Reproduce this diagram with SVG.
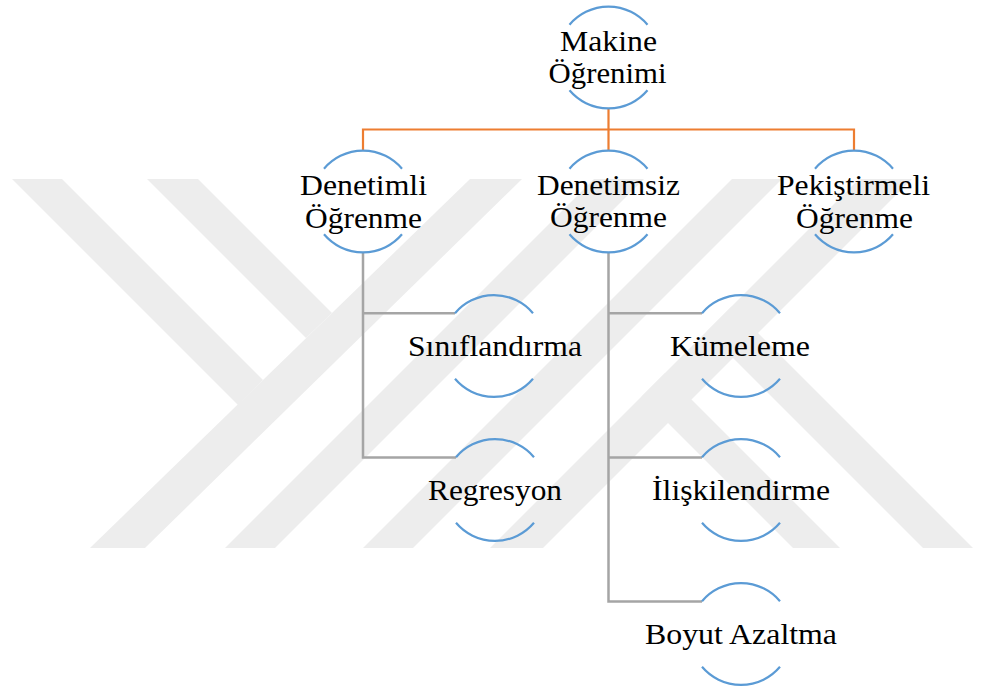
<svg xmlns="http://www.w3.org/2000/svg" width="981" height="691" viewBox="0 0 981 691">
<style>
.wm{fill:#EDEDED;stroke:none}
.arc{fill:none;stroke:#5B9BD5;stroke-width:2.2}
.t{font-family:'Liberation Serif','Times New Roman',Tinos,'DejaVu Serif',serif;font-size:29px;fill:#000;text-anchor:middle}
.or{fill:none;stroke:#ED7D31;stroke-width:2.2}
.gr{fill:none;stroke:#A5A5A5;stroke-width:2.5}
</style>
<rect width="981" height="691" fill="#fff"/>
<g id="watermark">
<polygon class="wm" points="12,179 62,179 263,380 238,405"/>
<polygon class="wm" points="147,179 198,179 332,313 306,338"/>
<polygon class="wm" points="90,548 145,548 522,179 470,179"/>
<polygon class="wm" points="225,548 275,548 644,179 594,179"/>
<polygon class="wm" points="363,548 413,548 782,179 732,179"/>
<polygon class="wm" points="490,548 543,548 912,179 859,179"/>
<polygon class="wm" points="641.5,396.5 665,373 840,548 793,548"/>
<polygon class="wm" points="706.5,331.5 731.5,306.5 973,548 923,548"/>
</g>
<g id="connectors">
<path class="or" d="M608.5 108.5V150.5M363 150.5V129.5H854V150.5"/>
<path class="gr" d="M363 252.5V457.5H456M363 313.2H455"/>
<path class="gr" d="M608.5 252.5V601.5H702M608.5 313.2H702M608.5 457.5H702"/>
</g>
<g id="n-makine">
<path class="arc" d="M569.5 24.7A51 51 0 0 1 647.5 24.7M569.5 90.3A51 51 0 0 0 647.5 90.3"/>
<text class="t" x="608.5" y="50.5" textLength="97" lengthAdjust="spacingAndGlyphs">Makine</text>
<text class="t" x="607.5" y="83" textLength="118" lengthAdjust="spacingAndGlyphs">Öğrenimi</text>
</g>
<g id="n-denetimli">
<path class="arc" d="M324 168.7A51 51 0 0 1 402 168.7M324 234.3A51 51 0 0 0 402 234.3"/>
<text class="t" x="363.5" y="195" textLength="127" lengthAdjust="spacingAndGlyphs">Denetimli</text>
<text class="t" x="363.5" y="227.5" textLength="117" lengthAdjust="spacingAndGlyphs">Öğrenme</text>
</g>
<g id="n-denetimsiz">
<path class="arc" d="M569.5 168.7A51 51 0 0 1 647.5 168.7M569.5 234.3A51 51 0 0 0 647.5 234.3"/>
<text class="t" x="608.5" y="194.5" textLength="143" lengthAdjust="spacingAndGlyphs">Denetimsiz</text>
<text class="t" x="608.5" y="227" textLength="117" lengthAdjust="spacingAndGlyphs">Öğrenme</text>
</g>
<g id="n-pekistirmeli">
<path class="arc" d="M815 168.7A51 51 0 0 1 893 168.7M815 234.3A51 51 0 0 0 893 234.3"/>
<text class="t" x="853.5" y="194.5" textLength="153" lengthAdjust="spacingAndGlyphs">Pekiştirmeli</text>
<text class="t" x="854.5" y="227.5" textLength="117" lengthAdjust="spacingAndGlyphs">Öğrenme</text>
</g>
<g id="n-siniflandirma">
<path class="arc" d="M455 313.2A51 51 0 0 1 533 313.2M455 378.8A51 51 0 0 0 533 378.8"/>
<text class="t" x="495" y="355.5" textLength="174" lengthAdjust="spacingAndGlyphs">Sınıflandırma</text>
</g>
<g id="n-regresyon">
<path class="arc" d="M456 457.2A51 51 0 0 1 534 457.2M456 522.8A51 51 0 0 0 534 522.8"/>
<text class="t" x="495" y="500" textLength="134" lengthAdjust="spacingAndGlyphs">Regresyon</text>
</g>
<g id="n-kumeleme">
<path class="arc" d="M702 313.2A51 51 0 0 1 780 313.2M702 378.8A51 51 0 0 0 780 378.8"/>
<text class="t" x="740" y="355.5" textLength="140" lengthAdjust="spacingAndGlyphs">Kümeleme</text>
</g>
<g id="n-iliskilendirme">
<path class="arc" d="M702 457.2A51 51 0 0 1 780 457.2M702 522.8A51 51 0 0 0 780 522.8"/>
<text class="t" x="741" y="499.5" textLength="178" lengthAdjust="spacingAndGlyphs">İlişkilendirme</text>
</g>
<g id="n-boyut">
<path class="arc" d="M702 601.2A51 51 0 0 1 780 601.2M702 666.8A51 51 0 0 0 780 666.8"/>
<text class="t" x="741" y="644" textLength="192" lengthAdjust="spacingAndGlyphs">Boyut Azaltma</text>
</g>
</svg>
